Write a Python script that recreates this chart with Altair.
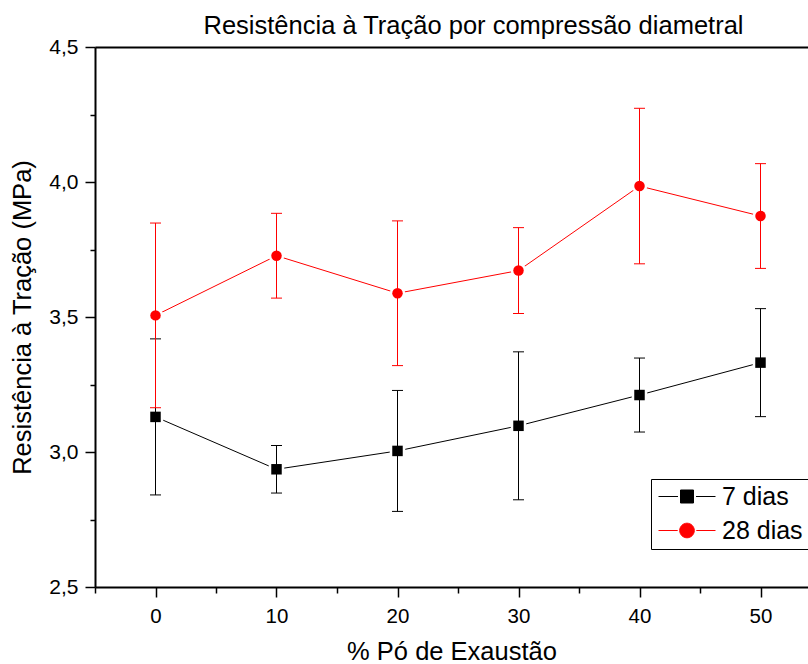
import altair as alt
import pandas as pd

# ---- data ----
x_pct = [0, 10, 20, 30, 40, 50]
series_names = ["7 dias", "28 dias"]
mean_7 = [3.130, 2.936, 3.004, 3.097, 3.211, 3.331]
err_7 = [0.289, 0.088, 0.224, 0.274, 0.137, 0.200]
mean_28 = [3.506, 3.727, 3.588, 3.672, 3.985, 3.874]
err_28 = [0.342, 0.157, 0.268, 0.159, 0.288, 0.194]
colors = ["black", "#ff0000"]

x_ticks = [-5, 0, 5, 10, 15, 20, 25, 30, 35, 40, 45, 50]
y_ticks = [2.5, 2.75, 3.0, 3.25, 3.5, 3.75, 4.0, 4.25, 4.5]

FONT = "Liberation Sans"
W, H = 713, 540
xscale = alt.Scale(domain=[-5, -5 + W / 12.1], nice=False, zero=False)
yscale = alt.Scale(domain=[2.5, 4.5], nice=False, zero=False)


def frame(name, mean, err):
    return pd.DataFrame({
        "x": x_pct,
        "y": mean,
        "lo": [m - e for m, e in zip(mean, err)],
        "hi": [m + e for m, e in zip(mean, err)],
        "series": name,
    })


df7 = frame(series_names[0], mean_7, err_7)
df28 = frame(series_names[1], mean_28, err_28)
df_all = pd.concat([df7, df28], ignore_index=True)

x_bottom = alt.Axis(
    orient="bottom", values=x_ticks, title="% Pó de Exaustão",
    labelExpr="datum.value % 10 == 0 && datum.value >= 0 ? datum.label : ''",
    tickSize={"condition": {"test": "datum.value % 10 != 0", "value": 6}, "value": 10},
    grid=False, labelFontSize=20.5, titleFontSize=25.5, labelPadding=9, titlePadding=13,
    titleFontWeight="normal", labelFont=FONT, titleFont=FONT,
    domainColor="black", tickColor="black", labelColor="black", titleColor="black",
    domainWidth=2, tickWidth=1.5,
)
x_top = alt.Axis(orient="top", labels=False, ticks=False, title=None, grid=False,
                 domainColor="black", domainWidth=2)
y_axis = alt.Axis(
    orient="left", values=y_ticks, title="Resistência à Tração (MPa)",
    labelExpr="datum.value % 0.5 == 0 ? replace(format(datum.value, '.1f'), '.', ',') : ''",
    tickSize={"condition": {"test": "datum.value % 0.5 != 0", "value": 5}, "value": 10},
    grid=False, labelFontSize=21, titleFontSize=25.5, labelPadding=7, titlePadding=13,
    titleFontWeight="normal", labelFont=FONT, titleFont=FONT,
    domainColor="black", tickColor="black", labelColor="black", titleColor="black",
    domainWidth=2, tickWidth=1.5,
)


def series_layers(df, color, shape, first=False):
    base = alt.Chart(df)
    xe = alt.X("x:Q", scale=xscale, axis=x_bottom if first else None)
    ye = alt.Y("y:Q", scale=yscale, axis=y_axis if first else None)
    line = base.mark_line(color=color, strokeWidth=1).encode(x=xe, y=ye)
    halo = base.mark_point(shape=shape, filled=True, color=color, stroke="white",
                           strokeWidth=5, size=110, opacity=1).encode(
        x=alt.X("x:Q", scale=xscale, axis=None), y=alt.Y("y:Q", scale=yscale, axis=None))
    return [line, halo]


def series_err(df, color, shape):
    base = alt.Chart(df)
    xe = alt.X("x:Q", scale=xscale, axis=None)
    rule = base.mark_rule(color=color, strokeWidth=1).encode(
        x=xe, y=alt.Y("lo:Q", scale=yscale, axis=None), y2="hi:Q")
    cap_lo = base.mark_tick(color=color, orient="horizontal", size=11, thickness=1,
                            opacity=1).encode(x=xe, y=alt.Y("lo:Q", scale=yscale, axis=None))
    cap_hi = base.mark_tick(color=color, orient="horizontal", size=11, thickness=1,
                            opacity=1).encode(x=xe, y=alt.Y("hi:Q", scale=yscale, axis=None))
    pts = base.mark_point(shape=shape, filled=True, color=color, size=110,
                          opacity=1, strokeWidth=0).encode(
        x=xe, y=alt.Y("y:Q", scale=yscale, axis=None))
    return [rule, cap_lo, cap_hi, pts]


top_border = alt.Chart(df7).mark_line(opacity=0).encode(
    x=alt.X("x:Q", scale=xscale, axis=x_top),
    y=alt.Y("y:Q", scale=yscale, axis=None))

# legend symbols: line + marker + line, as custom paths
sq_path = "M-1,0H0.95M1.2,-0.65H2.5V0.65H1.2ZM2.75,0H4.7"
ci_path = ("M-1,0H0.92M1.12,0A0.73,0.73 0 1,0 2.58,0A0.73,0.73 0 1,0 1.12,0Z"
           "M2.78,0H4.7")
leg = alt.Legend(
    title=None, orient="none", legendX=556, legendY=432,
    strokeColor="black", fillColor="white", padding=5,
    labelFont=FONT, labelFontSize=25, labelColor="black", labelOffset=41,
    symbolSize=400, symbolStrokeWidth=1, rowPadding=8, symbolOpacity=1,
)
legend_layer = alt.Chart(df_all).transform_filter("false").mark_point(
    filled=True, opacity=1, strokeWidth=1).encode(
    fill=alt.Fill("series:N", scale=alt.Scale(domain=series_names, range=colors), legend=leg),
    stroke=alt.Stroke("series:N", scale=alt.Scale(domain=series_names, range=colors), legend=leg),
    shape=alt.Shape("series:N", scale=alt.Scale(domain=series_names, range=[sq_path, ci_path]),
                    legend=leg),
)

layers = (
    [top_border]
    + series_layers(df7, colors[0], "square", first=True)
    + series_layers(df28, colors[1], "circle")
    + series_err(df7, colors[0], "square")
    + series_err(df28, colors[1], "circle")
    + [legend_layer]
)

chart = alt.layer(*layers).resolve_axis(x="independent", y="independent").properties(
    width=W, height=H,
    title=alt.TitleParams(
        "Resistência à Tração por compressão diametral", font=FONT, fontSize=25.5,
        fontWeight="normal", color="black", anchor="middle", dx=22, offset=-3),
    padding={"left": 95, "top": 47, "right": 0, "bottom": 77},
    autosize="none",
).configure_view(stroke=None).configure(background="white")

chart.save("out.html", embed_options={"renderer": "svg", "actions": False})
